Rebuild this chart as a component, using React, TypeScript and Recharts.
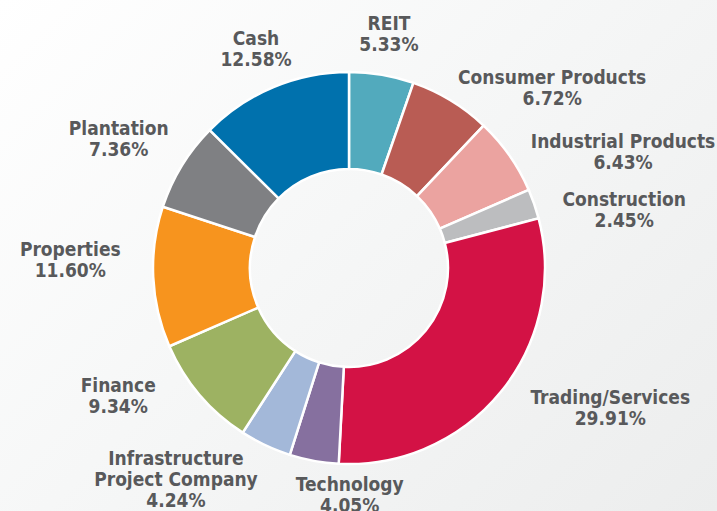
import { PieChart, Pie, Cell } from 'recharts'

const categories = [
  'REIT',
  'Consumer Products',
  'Industrial Products',
  'Construction',
  'Trading/Services',
  'Technology',
  'Infrastructure\nProject Company',
  'Finance',
  'Properties',
  'Plantation',
  'Cash',
]

const weights = [5.33, 6.72, 6.43, 2.45, 29.91, 4.05, 4.24, 9.34, 11.6, 7.36, 12.58]

const colors = [
  '#52aabd',
  '#b95c54',
  '#eba3a0',
  '#bcbdbf',
  '#d31245',
  '#86709f',
  '#a3b8d9',
  '#9db262',
  '#f7941e',
  '#7f8083',
  '#0071ad',
]

// hand tweaks so the labels sit like the original
const labelNudge: [number, number][] = [
  [-5, -8],
  [63, 16],
  [53, 16],
  [20, 17],
  [52, -6],
  [49, 0],
  [-58, 3],
  [-25, -21],
  [-9, -19],
  [0, -9],
  [11, -7],
]

const chartData = categories.map((name, i) => ({ name, value: weights[i] }))

const RAD = Math.PI / 180
const LINE_H = 21

function SliceLabel(props: any) {
  const { cx, cy, midAngle, index } = props
  const [dx, dy] = labelNudge[index]
  const x = cx + 270 * Math.cos(-midAngle * RAD) + dx
  const y = cy + 230 * Math.sin(-midAngle * RAD) + dy
  const lines = [...categories[index].split('\n'), weights[index].toFixed(2) + '%']
  const top = y - ((lines.length - 1) * LINE_H) / 2
  return (
    <text
      x={x}
      y={top}
      textAnchor="middle"
      fill="#58595b"
      fontFamily="'DejaVu Sans Condensed', 'DejaVu Sans', sans-serif"
      fontWeight="bold"
      fontSize={19}
    >
      {lines.map((ln, i) => (
        <tspan key={i} x={x} y={top + i * LINE_H} dominantBaseline="central">
          {ln}
        </tspan>
      ))}
    </text>
  )
}

export default function App() {
  return (
    <div
      style={{
        position: 'absolute',
        top: 0,
        left: 0,
        width: 717,
        height: 511,
        overflow: 'hidden',
        background: 'linear-gradient(135deg, #ffffff 0%, #f6f7f7 45%, #eceded 100%)',
      }}
    >
      <PieChart width={717} height={511} margin={{ top: 0, right: 0, bottom: 0, left: 0 }}>
        <Pie
          data={chartData}
          dataKey="value"
          nameKey="name"
          cx={349}
          cy={268}
          innerRadius={99}
          outerRadius={196}
          startAngle={90}
          endAngle={-270}
          stroke="#ffffff"
          strokeWidth={2.5}
          label={SliceLabel}
          labelLine={false}
          isAnimationActive={false}
        >
          {chartData.map((d, i) => (
            <Cell key={d.name} fill={colors[i]} />
          ))}
        </Pie>
      </PieChart>
    </div>
  )
}
